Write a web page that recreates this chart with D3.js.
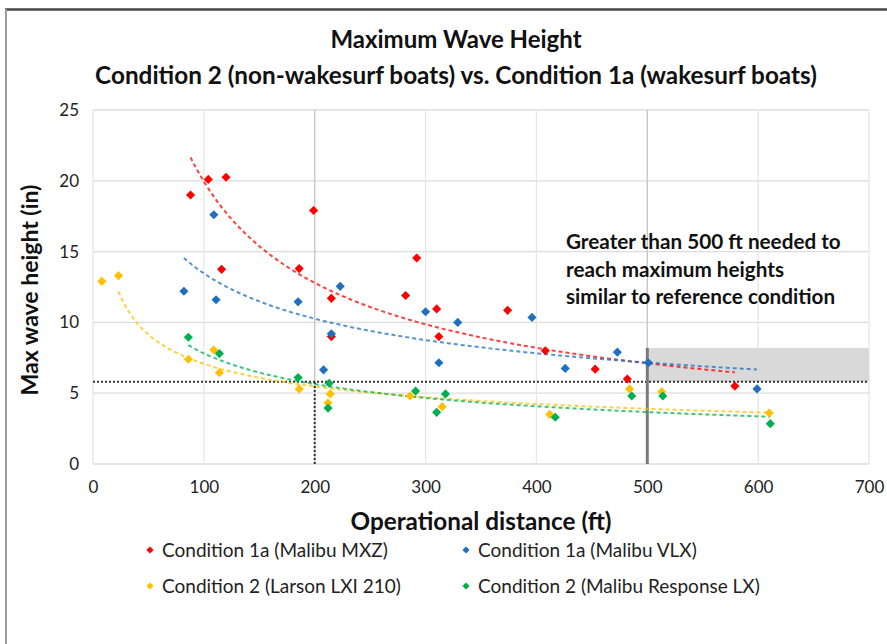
<!DOCTYPE html>
<html>
<head>
<meta charset="utf-8">
<script src="https://cdn.jsdelivr.net/npm/d3@7"></script>
<style>
  body { margin: 0; background: #fff; }
  svg { font-family: Lato, "Open Sans", sans-serif; }
</style>
</head>
<body>
<svg id="chart" width="887" height="644"></svg>
<script>
// points: [distance ft, max wave height in]
const mxzPoints = [[88,19.0],[104,20.1],[120,20.25],[116,13.75],[199,17.9],[186,13.8],[215,11.7],[215,9.0],
  [282,11.9],[292,14.55],[310,10.95],[312,9.0],[374,10.85],[408,8.0],[453,6.7],[482,6.0],[579,5.5]];
const vlxPoints = [[82,12.2],[109,17.6],[111,11.6],[185,11.45],[208,6.65],[215,9.2],[223,12.55],[300,10.75],
  [312,7.15],[329,10.0],[396,10.35],[426,6.75],[473,7.9],[501,7.15],[599,5.3]];
const larsonPoints = [[8,12.9],[23,13.3],[86,7.4],[109,8.05],[114,6.45],[186,5.3],[212,4.3],[214,4.95],
  [286,4.8],[315,4.05],[412,3.5],[484,5.3],[513,5.1],[610,3.6]];
const responsePoints = [[86,8.95],[114,7.8],[185,6.1],[212,3.95],[213,5.7],[291,5.15],[310,3.65],[318,4.95],
  [417,3.3],[486,4.8],[514,4.8],[611,2.85]];

// power trendlines y = a * x^b, drawn from..to
const mxzTrend = [381.9, -0.641, 88, 579];
const vlxTrend = [81.87, -0.392, 82, 599];
const larsonTrend = [38.88, -0.370, 23, 610];
const responseTrend = [68.07, -0.470, 86, 611];

const seriesNames = ["Condition 1a (Malibu MXZ)", "Condition 1a (Malibu VLX)",
  "Condition 2 (Larson LXI 210)", "Condition 2 (Malibu Response LX)"];
const seriesColors = ["#ff0000", "#1f6fc0", "#ffc000", "#00b050"];

const xTicks = [0, 100, 200, 300, 400, 500, 600, 700];
const yTicks = [0, 5, 10, 15, 20, 25];

const refHeight = 5.8;      // reference condition max height
const refDistance = 200;
const neededDistance = 500;
const bandTop = 8.2;

const svg = d3.select("#chart");
const margin = {left: 93, right: 18, top: 110, bottom: 180};
const W = 887, H = 644;

const x = d3.scaleLinear().domain([0, 700]).range([margin.left, W - margin.right]);
const y = d3.scaleLinear().domain([0, 25]).range([H - margin.bottom, margin.top]);

// frame
svg.append("line").attr("x1", 5).attr("x2", W).attr("y1", 9.5).attr("y2", 9.5)
  .attr("stroke", "#444").attr("stroke-width", 2.5);
svg.append("line").attr("x1", 6).attr("x2", 6).attr("y1", 9).attr("y2", H)
  .attr("stroke", "#9a9a9a").attr("stroke-width", 2);

// titles
svg.append("text").attr("x", 456).attr("y", 48).attr("text-anchor", "middle")
  .attr("font-size", 24).attr("font-weight", "bold").attr("fill", "#111")
  .text("Maximum Wave Height");
svg.append("text").attr("x", 456).attr("y", 84).attr("text-anchor", "middle")
  .attr("font-size", 24.3).attr("font-weight", "bold").attr("fill", "#111")
  .text("Condition 2 (non-wakesurf boats) vs. Condition 1a (wakesurf boats)");

// gridlines
const grid = svg.append("g");
grid.selectAll(".hg").data(yTicks).enter().append("line")
  .attr("x1", x(0)).attr("x2", x(700)).attr("y1", d => y(d)).attr("y2", d => y(d))
  .attr("stroke", "#dcdcdc").attr("stroke-width", 1.3);
grid.selectAll(".vg").data(xTicks).enter().append("line")
  .attr("x1", d => x(d)).attr("x2", d => x(d)).attr("y1", y(0)).attr("y2", y(25))
  .attr("stroke", d => (d === refDistance || d === neededDistance) ? "#c4c4c4" : "#e6e6e6")
  .attr("stroke-width", 1.3);

// shaded band beyond 500 ft
svg.append("rect")
  .attr("x", x(neededDistance)).attr("width", x(700) - x(neededDistance))
  .attr("y", y(bandTop)).attr("height", y(refHeight) - y(bandTop))
  .attr("fill", "#d9d9d9");

// reference lines
svg.append("line").attr("x1", x(0)).attr("x2", x(700))
  .attr("y1", y(refHeight)).attr("y2", y(refHeight))
  .attr("stroke", "#333").attr("stroke-width", 2).attr("stroke-dasharray", "2,2");
svg.append("line").attr("x1", x(refDistance)).attr("x2", x(refDistance))
  .attr("y1", y(0)).attr("y2", y(refHeight))
  .attr("stroke", "#333").attr("stroke-width", 2).attr("stroke-dasharray", "2,2");
svg.append("line").attr("x1", x(neededDistance)).attr("x2", x(neededDistance))
  .attr("y1", y(0)).attr("y2", y(bandTop))
  .attr("stroke", "#7a7a7a").attr("stroke-width", 3);

// axes tick labels
svg.append("g").attr("transform", `translate(0,${y(0)})`)
  .call(d3.axisBottom(x).tickValues(xTicks).tickSize(0).tickPadding(17))
  .call(g => g.select(".domain").remove())
  .selectAll("text").attr("font-size", 17).attr("fill", "#222").style("font-family", "Lato");
svg.append("g").attr("transform", `translate(${x(0)},0)`)
  .call(d3.axisLeft(y).tickValues(yTicks).tickSize(0).tickPadding(14))
  .call(g => g.select(".domain").remove())
  .selectAll("text").attr("font-size", 17).attr("fill", "#222").style("font-family", "Lato");

// axis titles
svg.append("text").attr("x", 481).attr("y", 530).attr("text-anchor", "middle")
  .attr("font-size", 24.3).attr("font-weight", "bold").attr("fill", "#111")
  .text("Operational distance (ft)");
svg.append("text").attr("transform", "translate(38,290) rotate(-90)").attr("text-anchor", "middle")
  .attr("font-size", 23).attr("font-weight", "bold").attr("fill", "#111")
  .text("Max wave height (in)");

// trendlines
const allTrends = [mxzTrend, vlxTrend, larsonTrend, responseTrend];
const line = d3.line().x(d => x(d[0])).y(d => y(d[1]));
allTrends.forEach((t, i) => {
  const xs = d3.range(t[2], t[3], 2).concat([t[3]]);
  svg.append("path")
    .datum(xs.map(v => [v, t[0] * Math.pow(v, t[1])]))
    .attr("d", line)
    .attr("fill", "none")
    .attr("stroke", seriesColors[i])
    .attr("stroke-opacity", 0.75)
    .attr("stroke-width", 2)
    .attr("stroke-dasharray", "4,3");
});

// points
const diamond = d3.symbol(d3.symbolSquare, 42);
const allPoints = [mxzPoints, vlxPoints, larsonPoints, responsePoints];
allPoints.forEach((pts, i) => {
  svg.append("g").selectAll("path").data(pts).enter().append("path")
    .attr("d", diamond)
    .attr("transform", d => `translate(${x(d[0])},${y(d[1])}) rotate(45)`)
    .attr("fill", seriesColors[i]);
});

// annotation
const note = ["Greater than 500 ft needed to", "reach maximum heights", "similar to reference condition"];
svg.append("g").selectAll("text").data(note).enter().append("text")
  .attr("x", 566).attr("y", (d, i) => 249 + i * 27.5)
  .attr("font-size", 20.7).attr("font-weight", "bold").attr("fill", "#111")
  .text(d => d);

// legend
const legendPos = [[150, 550], [466, 550], [150, 586], [466, 586]];
const legend = svg.append("g");
seriesNames.forEach((name, i) => {
  const g = legend.append("g").attr("transform", `translate(${legendPos[i][0]},${legendPos[i][1]})`);
  g.append("path").attr("d", d3.symbol(d3.symbolSquare, 26)).attr("transform", "rotate(45)")
    .attr("fill", seriesColors[i]);
  g.append("text").attr("x", 12).attr("y", 6.5).attr("font-size", 19).attr("fill", "#222").text(name);
});
</script>
</body>
</html>
